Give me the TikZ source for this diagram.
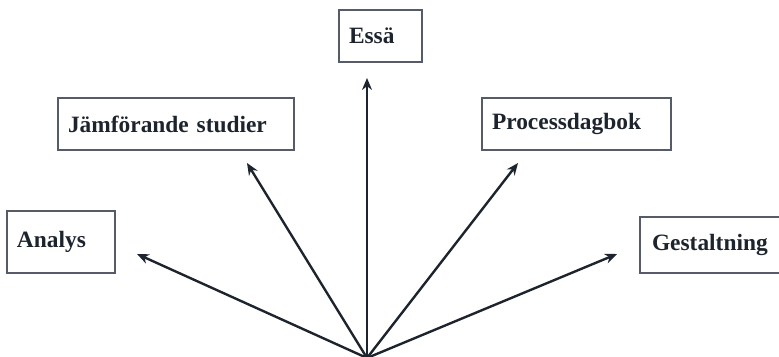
\documentclass[tikz,border=0pt]{standalone}
\usepackage{fontspec}
\setmainfont{Liberation Serif}
\usepackage{xcolor}
\usetikzlibrary{arrows.meta}
\definecolor{boxgray}{RGB}{85,92,104}
\definecolor{inkdark}{RGB}{30,36,46}

\begin{document}
\begin{tikzpicture}[x=0.5pt, y=-0.5pt,
      box/.style={draw=boxgray, line width=0.8pt, fill=white, text width=#1,
                  minimum height=26pt, inner xsep=5pt, align=left,
                  text=inkdark, font=\fontsize{11.7}{14}\selectfont\bfseries},
      arr/.style={-{Stealth[length=6pt, width=5pt]}, line width=1.2pt, draw=inkdark}
  ]
    \clip (0,0) rectangle (779,357);

    \node[box=31.5pt] (essa) at (380.5,36) {Essä};
    \node[box=108pt] (jamf) at (176,124) {Jämförande studier};
    \node[box=84.5pt] (proc) at (576.5,124) {Processdagbok};
    \node[box=44pt, minimum height=31pt] (analys) at (61,242) {Analys};
    \node[box=63pt, minimum height=28pt, inner xsep=6pt] (gest) at (715,245) {Gestaltning};

    % common origin and arrow tips
    \coordinate (root) at (367,358);
    \coordinate (essa tip) at (367,78);
    \coordinate (jamf tip) at (247,163);
    \coordinate (proc tip) at (518,163);
    \coordinate (analys tip) at (137,254);
    \coordinate (gest tip) at (617,254);

    \draw[arr] (root) -- (essa tip);
    \draw[arr] (root) -- (jamf tip);
    \draw[arr] (root) -- (proc tip);
    \draw[arr] (root) -- (analys tip);
    \draw[arr] (root) -- (gest tip);
  \end{tikzpicture}
\end{document}
